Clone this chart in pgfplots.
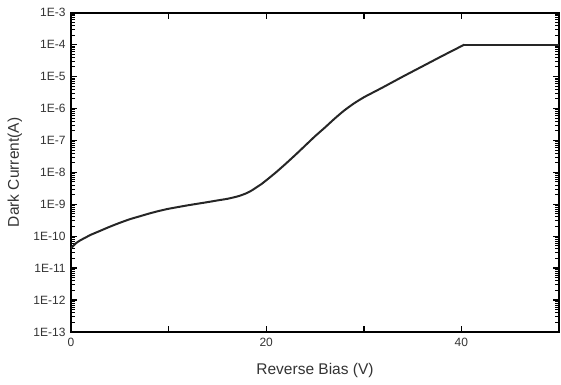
\documentclass[border=0pt]{standalone}
\usepackage{fontspec}
\setmainfont{Liberation Sans}
\usepackage{pgfplots}
\pgfplotsset{compat=1.18}
\begin{document}
\begin{tikzpicture}
\useasboundingbox (-71pt,-52pt) rectangle (490pt,332pt);
\begin{axis}[
  scale only axis, width=488pt, height=319.3pt,
  xmin=0, xmax=50, ymode=log, ymin=1e-13, ymax=1e-3,
  xtick={0,10,20,30,40,50}, xticklabels={0,,20,,40,},
  ytick={1e-13,1e-12,1e-11,1e-10,1e-9,1e-8,1e-7,1e-6,1e-5,1e-4,1e-3},
  yticklabels={1E-13,1E-12,1E-11,1E-10,1E-9,1E-8,1E-7,1E-6,1E-5,1E-4,1E-3},
  minor ytick={2e-13,3e-13,4e-13,5e-13,6e-13,7e-13,8e-13,9e-13,
    2e-12,3e-12,4e-12,5e-12,6e-12,7e-12,8e-12,9e-12,
    2e-11,3e-11,4e-11,5e-11,6e-11,7e-11,8e-11,9e-11,
    2e-10,3e-10,4e-10,5e-10,6e-10,7e-10,8e-10,9e-10,
    2e-9,3e-9,4e-9,5e-9,6e-9,7e-9,8e-9,9e-9,
    2e-8,3e-8,4e-8,5e-8,6e-8,7e-8,8e-8,9e-8,
    2e-7,3e-7,4e-7,5e-7,6e-7,7e-7,8e-7,9e-7,
    2e-6,3e-6,4e-6,5e-6,6e-6,7e-6,8e-6,9e-6,
    2e-5,3e-5,4e-5,5e-5,6e-5,7e-5,8e-5,9e-5,
    2e-4,3e-4,4e-4,5e-4,6e-4,7e-4,8e-4,9e-4},
  tick align=inside,
  major tick length=6.5pt, minor tick length=4pt,
  tick style={black, line width=1.4pt},
  minor tick style={black, line width=1pt},
  axis line style={line width=2pt, black},
  ticklabel style={font=\fontsize{12}{14}\selectfont, text=black!80},
  xticklabel style={yshift=-3pt},
  yticklabel style={xshift=-2pt},
  xlabel={Reverse Bias (V)},
  ylabel={Dark Current(A)},
  label style={font=\fontsize{15.5}{18}\selectfont, text=black!80},
  xlabel style={at={(axis description cs:0.5,-0.119)}, anchor=center},
  ylabel style={at={(axis description cs:-0.1148,0.5)}, anchor=center},
]
\addplot[line width=2pt, black!85, smooth, tension=0.3] coordinates {
 (0,4.17e-11) (0.5,6.03e-11) (1,7.59e-11) (1.5,9.12e-11) (2,1.10e-10)
 (3,1.48e-10) (4,2.00e-10) (5,2.63e-10) (6,3.39e-10) (7,4.17e-10)
 (8,5.13e-10) (9,6.17e-10) (10,7.24e-10) (12,9.33e-10) (14,1.17e-9)
 (15,1.32e-9) (16,1.48e-9) (17,1.74e-9) (17.5,1.95e-9) (18,2.24e-9)
 (18.5,2.69e-9) (19,3.39e-9) (19.5,4.27e-9) (20,5.62e-9)
 (21,1.00e-8) (22,1.86e-8) (23,3.55e-8) (24,6.92e-8) (25,1.35e-7)
 (26,2.51e-7) (27,4.79e-7) (28,8.71e-7) (29,1.45e-6) (30,2.24e-6)
 (31,3.24e-6) (32,4.68e-6) (34,1.00e-5) (36,2.09e-5) (38,4.37e-5) (40.3,1.00e-4)
};
\addplot[line width=2pt, black!85] coordinates {(40.3,1.0e-4) (50,1.0e-4)};
\end{axis}
\end{tikzpicture}
\end{document}
